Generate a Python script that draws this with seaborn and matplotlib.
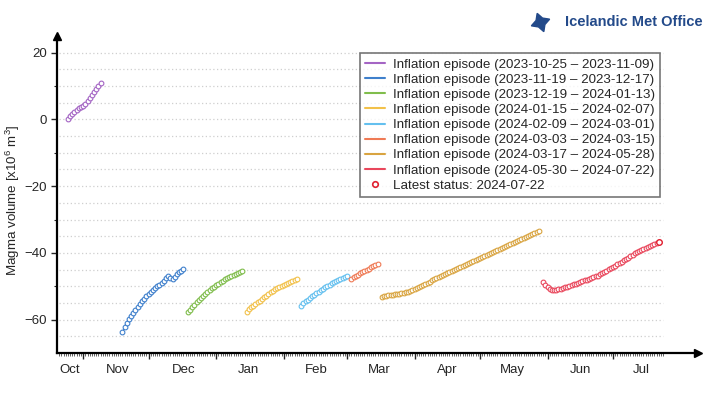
import numpy as np
import pandas as pd
import matplotlib
matplotlib.use("Agg")
import matplotlib.pyplot as plt
import matplotlib.dates as mdates
from matplotlib.lines import Line2D
import seaborn as sns

# ---------------- data ----------------
episode_starts = ["2023-10-25", "2023-11-19", "2023-12-19", "2024-01-15",
                  "2024-02-09", "2024-03-03", "2024-03-17", "2024-05-30"]
episode_labels = [
    "Inflation episode (2023-10-25 – 2023-11-09)",
    "Inflation episode (2023-11-19 – 2023-12-17)",
    "Inflation episode (2023-12-19 – 2024-01-13)",
    "Inflation episode (2024-01-15 – 2024-02-07)",
    "Inflation episode (2024-02-09 – 2024-03-01)",
    "Inflation episode (2024-03-03 – 2024-03-15)",
    "Inflation episode (2024-03-17 – 2024-05-28)",
    "Inflation episode (2024-05-30 – 2024-07-22)",
]
ep1 = [0.0, 0.9, 1.7, 2.3, 2.9, 3.3, 3.6, 4.0, 4.6, 5.5, 6.3, 7.2, 8.1, 9.0, 10.0, 11.0]
ep2 = [-63.8, -62.3, -61.0, -59.8, -58.8, -58.0, -57.2, -56.3, -55.3, -54.5,
       -53.7, -53.0, -52.4, -51.8, -51.2, -50.6, -50.0, -49.5, -49.0, -48.3,
       -47.6, -47.0, -47.6, -47.9, -47.2, -46.4, -45.8, -45.3, -44.9]
ep3 = [-57.7, -57.0, -56.2, -55.5, -54.8, -54.1, -53.4, -52.8, -52.2, -51.6,
       -51.1, -50.6, -50.1, -49.6, -49.2, -48.7, -48.3, -47.9, -47.5, -47.1,
       -46.9, -46.6, -46.4, -46.1, -45.7, -45.3]
ep4 = [-57.8, -56.9, -56.3, -55.8, -55.3, -54.8, -54.3, -53.8, -53.3, -52.8,
       -52.3, -51.8, -51.3, -50.9, -50.5, -50.2, -49.9, -49.6, -49.3, -49.0,
       -48.7, -48.4, -48.1, -47.8]
ep5 = [-55.8, -55.1, -54.5, -54.0, -53.5, -53.0, -52.5, -52.0, -51.6, -51.2,
       -50.8, -50.3, -49.9, -49.5, -49.1, -48.7, -48.4, -48.1, -47.8, -47.5,
       -47.2, -46.9]
ep6 = [-47.8, -47.3, -46.9, -46.5, -46.1, -45.8, -45.4, -45.0, -44.7, -44.3,
       -44.0, -43.6, -43.3]
ep7 = [-53.1, -53.0, -52.8, -52.7, -52.6, -52.5, -52.4, -52.3, -52.2, -52.0,
       -51.9, -51.8, -51.6, -51.4, -51.1, -50.8, -50.4, -50.1, -49.8, -49.5,
       -49.2, -48.9, -48.6, -48.2, -47.9, -47.6, -47.3, -46.9, -46.6, -46.3,
       -46.0, -45.7, -45.4, -45.1, -44.8, -44.5, -44.2, -43.9, -43.6, -43.3,
       -43.0, -42.7, -42.4, -42.1, -41.8, -41.6, -41.3, -41.0, -40.7, -40.3,
       -40.0, -39.7, -39.4, -39.1, -38.8, -38.5, -38.2, -37.9, -37.6, -37.3,
       -37.0, -36.7, -36.4, -36.1, -35.8, -35.5, -35.2, -34.9, -34.6, -34.3,
       -34.0, -33.7, -33.4]
ep8 = [-48.7, -49.6, -50.3, -50.7, -51.0, -51.1, -51.1, -50.9, -50.7, -50.5,
       -50.3, -50.2, -50.0, -49.7, -49.4, -49.2, -48.9, -48.7, -48.5, -48.2,
       -48.0, -47.7, -47.5, -47.2, -47.0, -46.8, -46.4, -46.0, -45.7, -45.3,
       -44.9, -44.6, -44.2, -43.8, -43.4, -43.0, -42.6, -42.2, -41.8, -41.4,
       -41.0, -40.5, -40.1, -39.7, -39.4, -39.1, -38.8, -38.5, -38.2, -37.9,
       -37.6, -37.3, -37.0, -36.7]
episodes = [ep1, ep2, ep3, ep4, ep5, ep6, ep7, ep8]
colors = ["#a465c4", "#3f80cc", "#80bd4c", "#f2c14a",
          "#64c0ef", "#ef7a55", "#d9a440", "#e9475c"]
latest_label = "Latest status: 2024-07-22"

month_labels = ["Oct", "Nov", "Dec", "Jan", "Feb", "Mar", "Apr", "May", "Jun", "Jul"]
month_label_pos = ["2023-10-26", "2023-11-17", "2023-12-17", "2024-01-16",
                   "2024-02-16", "2024-03-16", "2024-04-16", "2024-05-16",
                   "2024-06-16", "2024-07-14"]
month_ticks = ["2023-11-01", "2023-12-01", "2024-01-01", "2024-02-01", "2024-03-01",
               "2024-04-01", "2024-05-01", "2024-06-01", "2024-07-01"]

# ---------------- style ----------------
sns.set_style("white")
plt.rcParams["font.family"] = ["Liberation Sans", "DejaVu Sans"]
plt.rcParams["mathtext.fontset"] = "custom"
plt.rcParams["mathtext.rm"] = "Liberation Sans"
plt.rcParams["mathtext.it"] = "Liberation Sans:italic"

W, H = 706, 393
fig = plt.figure(figsize=(W / 100, H / 100), dpi=100)
L, R, T, B = 57, 698, 36, 353
ax = fig.add_axes([L / W, 1 - B / H, (R - L) / W, (B - T) / H])

x_left = pd.Timestamp("2023-10-20")
x_right = pd.Timestamp("2024-08-09")
grid_end = pd.Timestamp("2024-07-24")
ax.set_xlim(x_left, x_right)
ax.set_ylim(-70, 25)

# gridlines
for gy in range(-65, 21, 5):
    ax.hlines(gy, x_left + pd.Timedelta(days=1), grid_end, colors="#cfcfcf",
              linestyles=(0, (1, 2)), linewidth=0.9, zorder=0)

# series
for start, vals, col in zip(episode_starts, episodes, colors):
    d = pd.DataFrame({"date": pd.date_range(start, periods=len(vals), freq="D"),
                      "vol": vals})
    sns.lineplot(data=d, x="date", y="vol", ax=ax, color=col, linewidth=0.9,
                 marker="o", markersize=3.4, markerfacecolor="white",
                 markeredgecolor=col, markeredgewidth=0.8, zorder=3)

# latest status marker
last_date = pd.date_range(episode_starts[-1], periods=len(ep8), freq="D")[-1]
ax.plot([last_date], [ep8[-1]], "o", ms=4, mfc="white", mec="#e02030", mew=1.0, zorder=4)

# axes styling
for s in ["top", "right"]:
    ax.spines[s].set_visible(False)
for s in ["left", "bottom"]:
    ax.spines[s].set_linewidth(1.6)
    ax.spines[s].set_color("black")
ax.plot(1, 0, ">k", ms=6, transform=ax.transAxes, clip_on=False)
ax.plot(0, 1, "^k", ms=6, transform=ax.transAxes, clip_on=False)

ax.set_yticks([-60, -40, -20, 0, 20])
ax.set_yticklabels(["\u221260", "\u221240", "\u221220", "0", "20"])
ax.set_yticks([-50, -30, -10, 10], minor=True)
ax.tick_params(axis="y", which="major", direction="out", length=4, width=1, labelsize=9.5, left=True)
ax.tick_params(axis="y", which="minor", direction="out", length=2.5, width=0.8, left=True)

ax.set_xticks(mdates.date2num(pd.to_datetime(month_ticks)))
ax.set_xticklabels([])
days = pd.date_range("2023-10-21", grid_end, freq="D")
ax.set_xticks(mdates.date2num(days), minor=True)
ax.tick_params(axis="x", which="major", direction="out", length=4, width=1, bottom=True)
ax.tick_params(axis="x", which="minor", direction="out", length=2.2, width=0.5, bottom=True)
for lab, pos in zip(month_labels, month_label_pos):
    ax.annotate(lab, xy=(mdates.date2num(pd.Timestamp(pos)), 0),
                xycoords=("data", "axes fraction"), xytext=(0, -8),
                textcoords="offset points", ha="center", va="top", fontsize=9.5)

ax.set_xlabel("")
ax.set_ylabel("")
fig.text(13 / W, 1 - 200 / H, "Magma volume [x10$^6$ m$^3$]", fontsize=9.6,
         rotation=90, ha="center", va="center")

# legend
handles = [Line2D([0], [0], color=c, lw=1.5) for c in colors]
handles.append(Line2D([0], [0], ls="none", marker="o", ms=4, mfc="white",
                      mec="#e02030", mew=1.2))
leg = ax.legend(handles, episode_labels + [latest_label], loc="upper right",
                bbox_to_anchor=((660 - L) / (R - L), 1 - (53 - T) / (B - T)),
                borderaxespad=0, fontsize=9.6, frameon=True, fancybox=False,
                handlelength=1.5, handletextpad=0.55, labelspacing=0.21,
                borderpad=0.4)
leg.get_frame().set_edgecolor("#555555")
leg.get_frame().set_linewidth(1.2)

# logo
fig.text(565 / W, 1 - 22 / H, "Icelandic Met Office", fontsize=10.5,
         family=["Liberation Sans Narrow", "Liberation Sans"], weight="bold",
         color="#234a8a", ha="left", va="center")
fig.add_artist(Line2D([540 / W], [1 - 22 / H], marker=(4, 1, 20), ms=14,
                      color="#234a8a", transform=fig.transFigure))

fig.savefig("out.png", dpi=100)
